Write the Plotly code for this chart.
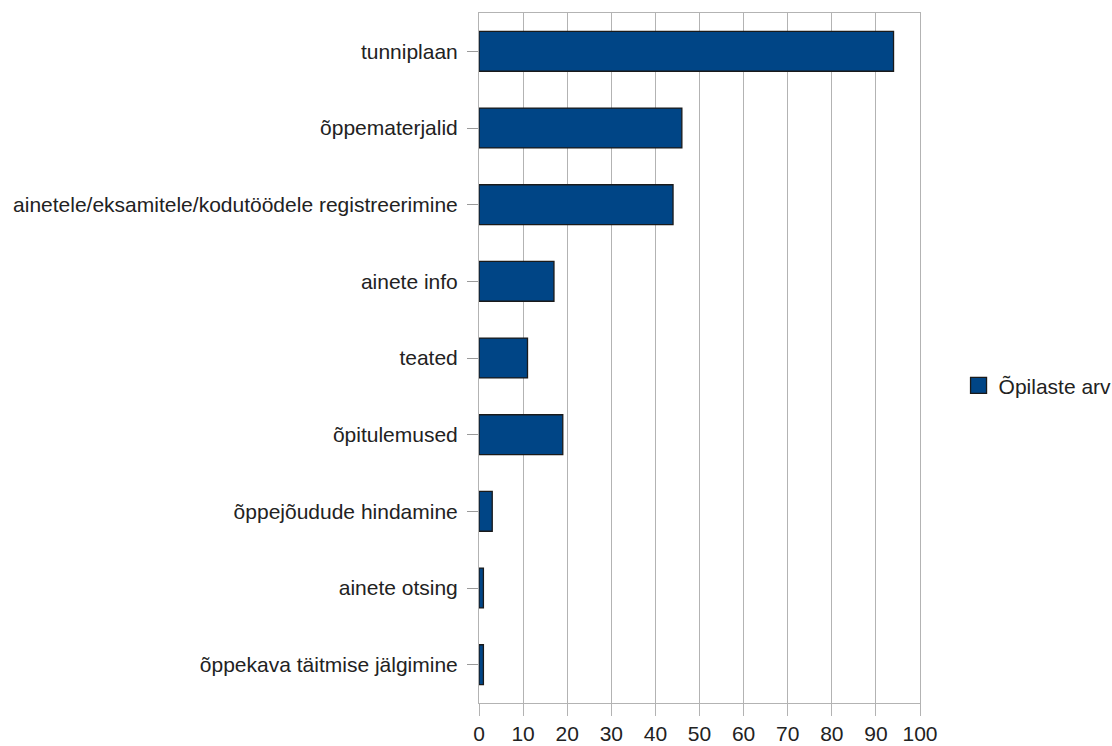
import plotly.graph_objects as go

# Survey categories, top to bottom
categories = [
    "tunniplaan",
    "õppematerjalid",
    "ainetele/eksamitele/kodutöödele registreerimine",
    "ainete info",
    "teated",
    "õpitulemused",
    "õppejõudude hindamine",
    "ainete otsing",
    "õppekava täitmise jälgimine",
]
# Number of students per category
students = [94, 46, 44, 17, 11, 19, 3, 1, 1]
series_name = "Õpilaste arv"
x_ticks = list(range(0, 101, 10))

font_family = "Liberation Sans, Arial, sans-serif"
bar_color = "#004586"
edge_color = "#1a1a1a"
grid_color = "#b3b3b3"

fig = go.Figure()
fig.add_trace(
    go.Bar(
        y=categories,
        x=students,
        orientation="h",
        name=series_name,
        marker=dict(color=bar_color, line=dict(color=edge_color, width=1.3)),
        showlegend=False,
    )
)
# Legend entry with a larger square key
fig.add_trace(
    go.Scatter(
        x=[None],
        y=[None],
        mode="markers",
        name=series_name,
        marker=dict(symbol="square", size=17, color=bar_color,
                    line=dict(color=edge_color, width=1.3)),
        showlegend=True,
    )
)

fig.update_layout(
    width=1112,
    height=746,
    margin=dict(l=479, r=192, t=13, b=43, autoexpand=False),
    paper_bgcolor="white",
    plot_bgcolor="white",
    bargap=0.48,
    font=dict(family=font_family, size=21, color="#222222"),
    legend=dict(
        xref="container", yref="container",
        x=0.862, y=0.483, xanchor="left", yanchor="middle",
        font=dict(size=21, color="#222222"),
        itemsizing="trace",
        itemwidth=30,
    ),
)

fig.update_xaxes(
    range=[0, 100],
    tickvals=x_ticks,
    showgrid=True,
    gridcolor=grid_color,
    gridwidth=1,
    showline=True,
    linecolor=grid_color,
    linewidth=1,
    mirror=True,
    ticks="outside",
    ticklen=12,
    tickcolor=grid_color,
    tickfont=dict(size=21),
    zeroline=False,
    fixedrange=True,
)

fig.update_yaxes(
    categoryorder="array",
    categoryarray=categories[::-1],
    showline=True,
    linecolor=grid_color,
    linewidth=1,
    mirror=True,
    ticks="outside",
    ticklen=11,
    tickcolor="#9a9a9a",
    tickfont=dict(size=21),
    ticklabelstandoff=5,
    showgrid=False,
    fixedrange=True,
)

fig.write_html("out.html")
